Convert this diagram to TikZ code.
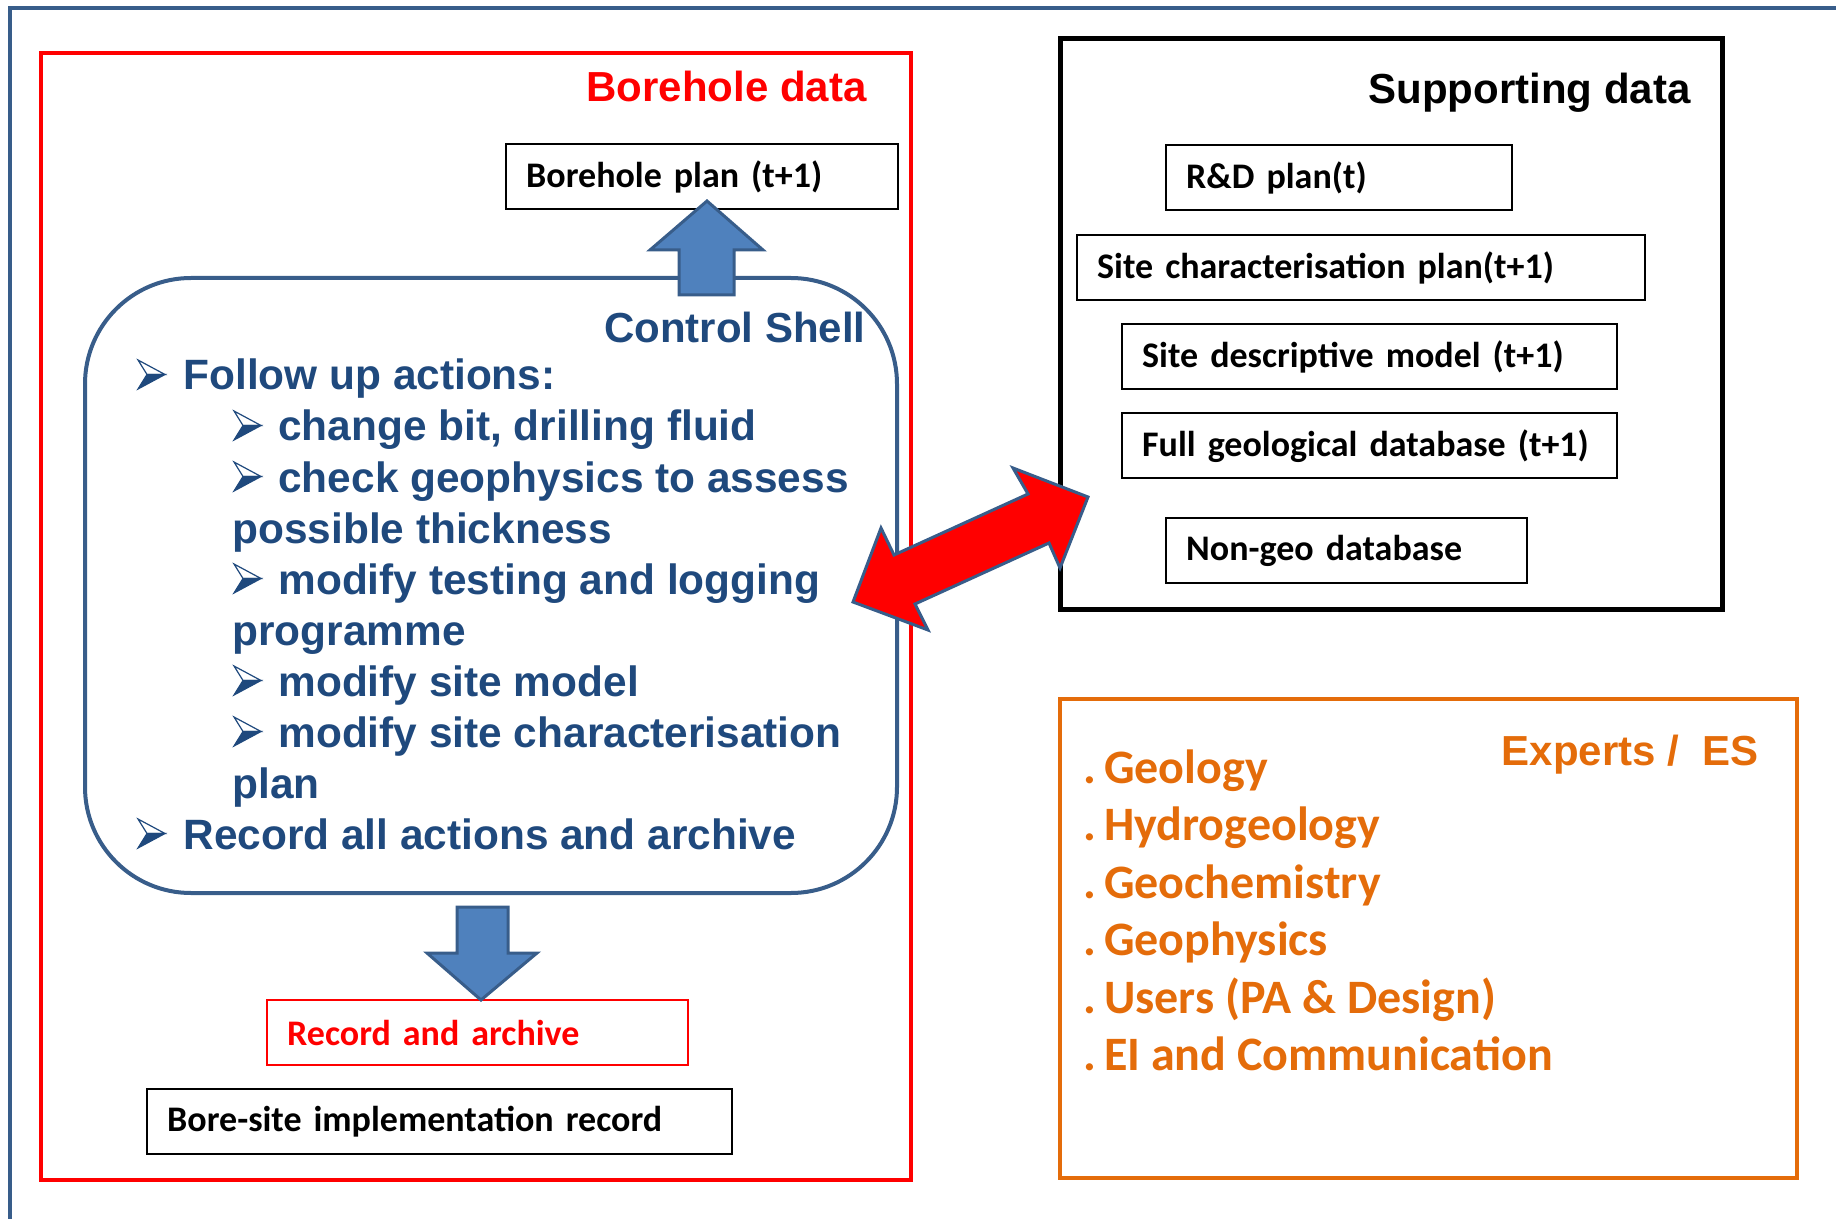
\documentclass[tikz,border=0pt]{standalone}
\usepackage{fontspec}
\setmainfont{Liberation Sans}
\newfontfamily\calibri{Carlito}
\definecolor{navy}{HTML}{1F497D}
\definecolor{shellblue}{HTML}{385D8A}
\definecolor{arrowblue}{HTML}{4F81BD}
\definecolor{expertorange}{HTML}{E46C0A}

\begin{document}
\begin{tikzpicture}[x=0.5pt, y=-0.5pt,
		heading/.style={anchor=base east, inner sep=0pt, font=\bfseries\fontsize{21}{21}\selectfont},
		item/.style={anchor=base west, inner sep=0pt, text=navy, font=\bfseries\fontsize{21.2}{21}\selectfont},
		expert/.style={anchor=base west, inner sep=0pt, text=expertorange, font=\calibri\bfseries\fontsize{24}{24}\selectfont},
		databox/.style={draw=black, line width=1.2pt, anchor=north west, minimum height=32.5pt, inner xsep=10pt, inner ysep=0pt, align=left, font=\calibri\bfseries\fontsize{18}{20}\selectfont},
		blockarrow/.style={fill=arrowblue, draw=shellblue, line width=1.5pt, line join=miter},
		pics/bullet/.style={code={
					\filldraw[navy, fill=white, line width=0.6pt, line join=miter] (0,-29) -- (27,-14.5) -- (9,-14.5) -- cycle;
					\filldraw[navy, line width=0.6pt, line join=miter] (0,0) -- (27,-14.5) -- (9,-14.5) -- cycle;
				}}]
		\useasboundingbox (0,0) rectangle (1836,1219);
		\draw[line width=2pt, color=shellblue] (10,1219) -- (10,8) -- (1836,8);

		% borehole data
		\begin{scope}
			\draw[red, line width=2pt] (41,53) rectangle (911,1180);
			\node[heading, text=red] (bhtitle) at (867,102) {Borehole data};
			\node[databox, text width=176pt] (bplan) at (505,143) {Borehole plan (t+1)};
			\draw[shellblue, line width=2pt, rounded corners=53pt] (85,278) rectangle (897,893);
			\node[heading, text=navy] (shelltitle) at (866,343) {Control Shell};
			\pic at (138,389) {bullet};
			\node[item] (follow) at (183,390) {Follow up actions:};
			\foreach \n/\y/\t in {bit/441/{change bit, drilling fluid}, geo/492/{check geophysics to assess}, log/594/{modify testing and logging}, model/696/{modify site model}, plan/747/{modify site characterisation}} {
					\pic at (234,\y-1) {bullet};
					\node[item] (\n) at (278,\y) {\t};
				}
			\foreach \n/\y/\t in {geob/543/{possible thickness}, logb/645/programme, planb/798/plan} {
					\node[item] (\n) at (232,\y) {\t};
				}
			\pic at (138,848) {bullet};
			\node[item] (recall) at (183,849) {Record all actions and archive};
			\node[databox, draw=red, text=red, text width=190.5pt] (record) at (266,999) {Record and archive};
			\node[databox, text width=272.5pt] (boresite) at (146,1088) {Bore-site implementation record};
			\draw[blockarrow] (707,201) -- (763,250) -- (734,250) -- (734,295) -- (679,295) -- (679,250) -- (650,250) -- cycle;
			\draw[blockarrow] (457,907) -- (508,907) -- (508,953) -- (537,953) -- (481,1000) -- (427,953) -- (457,953) -- cycle;
		\end{scope}

		% supporting data
		\begin{scope}
			\draw[black, line width=2.5pt] (1060,39) rectangle (1722,609);
			\node[heading] (suptitle) at (1691,104) {Supporting data};
			\node[databox, text width=153pt] (rdplan) at (1165,144) {R\&D plan(t)};
			\node[databox, text width=264pt] (scplan) at (1076,234) {Site characterisation plan(t+1)};
			\node[databox, text width=227.5pt] (sdmodel) at (1121,323) {Site descriptive model (t+1)};
			\node[databox, text width=227.5pt] (geodb) at (1121,412) {Full geological database (t+1)};
			\node[databox, text width=160.5pt] (nongeo) at (1165,517) {Non-geo database};
		\end{scope}

		% experts
		\begin{scope}
			\draw[expertorange, line width=2pt] (1060,699) rectangle (1797,1178);
			\node[heading, text=expertorange] (exptitle) at (1759,765) {Experts /\ \ ES};
			\foreach \n/\y/\t in {geol/783/Geology, hydro/840/Hydrogeology, chem/898/Geochemistry, phys/955/Geophysics, users/1013/{Users (PA \& Design)}, ei/1070/{EI and Communication}} {
					\node[expert] (\n) at (1083,\y) {.\,\t};
				}
		\end{scope}

		\draw[fill=red, draw=shellblue, line width=1.5pt, line join=miter] (853,602) -- (881,528) -- (894,555) -- (1028,494) -- (1013,468) -- (1088,497) -- (1060,568) -- (1049,543) -- (915,604) -- (928,630) -- cycle;
	\end{tikzpicture}
\end{document}
